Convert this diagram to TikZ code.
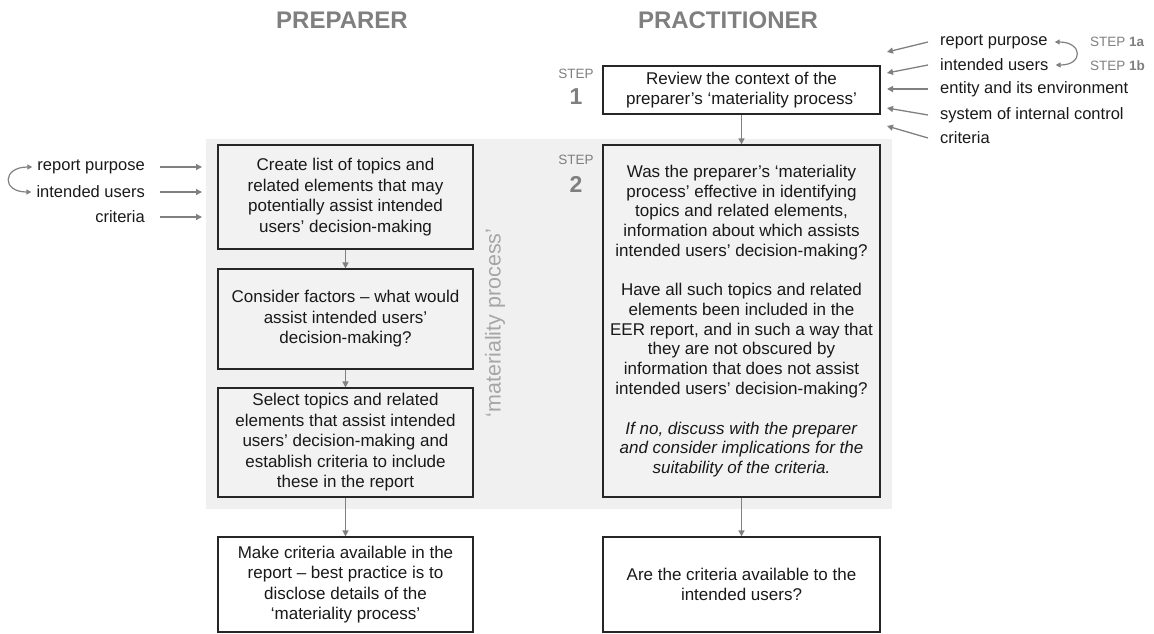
\documentclass[tikz,border=0pt]{standalone}
\usepackage{fontspec}
\setmainfont{Liberation Sans}
\usetikzlibrary{arrows.meta}
\definecolor{bggray}{HTML}{F0F0F0}
\definecolor{boxgray}{HTML}{F2F2F2}
\definecolor{arrgray}{HTML}{808080}
\definecolor{hdrgray}{HTML}{7F7F7F}
\definecolor{procgray}{HTML}{A6A6A6}
\begin{document}
\begin{tikzpicture}[x=1pt,y=-1pt,
  box/.style={draw=black!85, line width=1.2pt, align=center, inner sep=2pt,
    font=\fontsize{17}{20.5}\selectfont, text=black!90, minimum width=255pt},
  rbox/.style={box, minimum width=277pt},
  inbox/.style={fill=boxgray},
  arr/.style={draw=arrgray, line width=1.3pt, -{Triangle[length=6pt,width=6pt]}},
  darr/.style={draw=arrgray, line width=1.2pt, {Triangle[length=5pt,width=5pt]}-{Triangle[length=5pt,width=5pt]}},
  hdr/.style={font=\fontsize{24}{28}\bfseries\selectfont, text=hdrgray},
  intxt/.style={font=\fontsize{16.5}{19}\selectfont, text=black!90, inner sep=0pt},
  steplbl/.style={font=\fontsize{13.5}{15}\selectfont, text=hdrgray, inner sep=0pt},
  stepnum/.style={font=\fontsize{23}{26}\bfseries\selectfont, text=hdrgray, inner sep=0pt}
]
\useasboundingbox (0,0) rectangle (1154,633);
\fill[bggray] (206,139) rectangle (892,509);

% headers
\node[hdr] (hprep) at (342,20) {PREPARER};
\node[hdr] (hprac) at (728,20) {PRACTITIONER};

% step labels
\node[steplbl] (s1) at (576,74) {STEP};
\node[stepnum] (s1n) at (576,97) {1};
\node[steplbl] (s2) at (576,160) {STEP};
\node[stepnum] (s2n) at (576,184) {2};

% practitioner boxes
\node[rbox, fill=white, minimum height=48pt] (r1) at (741.5,90)
  {Review the context of the\\preparer's ‘materiality process’};
\node[rbox, inbox, minimum height=352pt, font=\fontsize{17}{19.7}\selectfont] (r2) at (741.5,321)
  {Was the preparer's ‘materiality\\process’ effective in identifying\\topics and related elements,\\information about which assists\\intended users’ decision-making?\\[20pt]
   Have all such topics and related\\elements been included in the\\EER report, and in such a way that\\they are not obscured by\\information that does not assist\\intended users’ decision-making?\\[20pt]
   \textit{If no, discuss with the preparer}\\\textit{and consider implications for the}\\\textit{suitability of the criteria.}};
\node[rbox, fill=white, minimum height=95pt] (r3) at (741.5,584.5)
  {Are the criteria available to the\\intended users?};

% preparer boxes
\node[box, inbox, minimum height=104pt] (p1) at (345.5,197)
  {Create list of topics and\\related elements that may\\potentially assist intended\\users’ decision-making};
\node[box, inbox, minimum height=100pt] (p2) at (345.5,319)
  {Consider factors – what would\\assist intended users’\\decision-making?};
\node[box, inbox, minimum height=109pt] (p3) at (345.5,442.5)
  {Select topics and related\\elements that assist intended\\users’ decision-making and\\establish criteria to include\\these in the report};
\node[box, fill=white, minimum height=95pt] (p4) at (345.5,584.5)
  {Make criteria available in the\\report – best practice is to\\disclose details of the\\‘materiality process’};

% materiality process label
\node[font=\fontsize{21.5}{24}\selectfont, text=procgray, rotate=90] (mp) at (495,323) {‘materiality process’};

% vertical connectors
\draw[arr] (p1.south) -- (p2.north);
\draw[arr] (p2.south) -- (p3.north);
\draw[arr] (p3.south) -- (p4.north);
\draw[arr] (r1.south) -- (r2.north);
\draw[arr] (r2.south) -- (r3.north);

% left inputs
\node[intxt, anchor=east] (lrp) at (145,167) {report purpose};
\node[intxt, anchor=east] (liu) at (145,192) {intended users};
\node[intxt, anchor=east] (lcr) at (145,217) {criteria};
\coordinate (lrpE) at (202,167);
\coordinate (liuE) at (202,192);
\coordinate (lcrE) at (202,217);
\draw[arr] ([xshift=15pt]lrp.east) -- (lrpE);
\draw[arr] ([xshift=15pt]liu.east) -- (liuE);
\draw[arr] ([xshift=15pt]lcr.east) -- (lcrE);
\draw[darr] ([xshift=-5pt]lrp.west) .. controls +(-30,0) and +(-30,0) .. ([xshift=-5pt]liu.west);

% right inputs
\node[intxt, anchor=west] (rrp) at (940,42) {report purpose};
\node[intxt, anchor=west] (riu) at (940,65) {intended users};
\node[intxt, anchor=west] (ren) at (940,89) {entity and its environment};
\node[intxt, anchor=west] (rsy) at (940,115) {system of internal control};
\node[intxt, anchor=west] (rcr) at (940,138) {criteria};
\coordinate (rrpE) at (887,52);
\coordinate (riuE) at (887,73);
\coordinate (renE) at (887,89);
\coordinate (rsyE) at (887,108);
\coordinate (rcrE) at (887,126);
\draw[arr] ([xshift=-12pt]rrp.west) -- (rrpE);
\draw[arr] ([xshift=-12pt]riu.west) -- (riuE);
\draw[arr] ([xshift=-12pt]ren.west) -- (renE);
\draw[arr] ([xshift=-12pt]rsy.west) -- (rsyE);
\draw[arr] ([xshift=-12pt]rcr.west) -- (rcrE);
\draw[darr] ([xshift=7pt]rrp.east) .. controls +(28,0) and +(28,0) .. ([xshift=7pt]riu.east);
\node[steplbl, anchor=west] (s1a) at (1090,42) {STEP \textbf{1a}};
\node[steplbl, anchor=west] (s1b) at (1090,66) {STEP \textbf{1b}};
\end{tikzpicture}
\end{document}
